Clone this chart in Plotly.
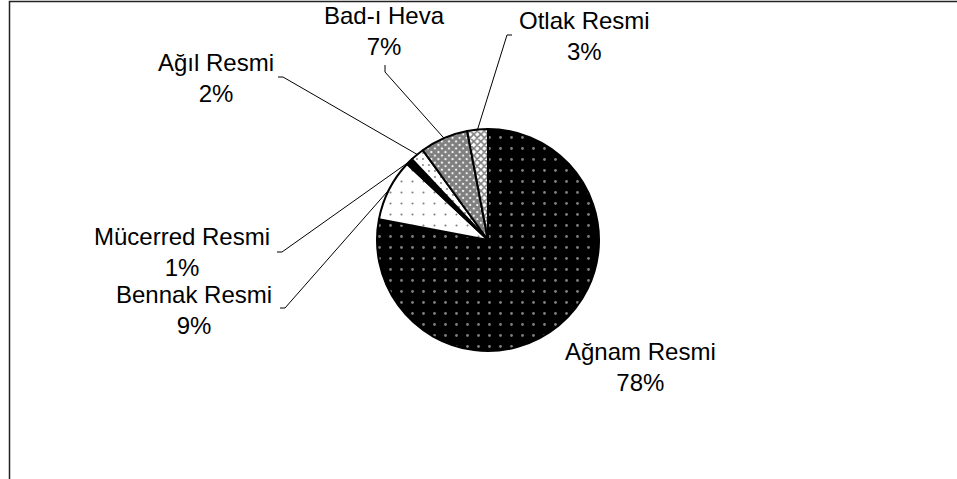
import math
import plotly.graph_objects as go

# ---- data ----
categories = ["Ağnam Resmi", "Bennak Resmi", "Mücerred Resmi", "Ağıl Resmi", "Bad-ı Heva", "Otlak Resmi"]
values = [78, 9, 1, 2, 7, 3]
percent_labels = ["78%", "9%", "1%", "2%", "7%", "3%"]

# ---- styles / layout ----
W, H = 957, 479
CX, CY, R = 488, 240, 111
pattern_shapes = [".", ".", "", ".", "x", "x"]
bg_colors = ["black", "white", "black", "white", "white", "white"]
fg_colors = ["white", "black", "black", "black", "black", "black"]
pattern_sizes = [11, 11, 8, 6, 5, 5]
solidities = [0.05, 0.03, 0.3, 0.08, 0.85, 0.55]

# label centre (px) and leader start (tick start, tick end) in px; None => no leader
label_pos = [(640, 367), (194, 310), (182, 252), (216, 78), (384, 31), (584, 36)]
leader_ticks = [None, ((280, 308), (285, 308)), ((277, 252), (282, 252)),
                ((278, 77), (283, 77)), ((385, 65), (385, 72)), ((512, 35), (507, 35))]

def px(x):
    return x / W

def py(y):
    return 1 - y / H

fig = go.Figure()
fig.add_trace(go.Pie(
    labels=categories,
    values=values,
    sort=False,
    direction="clockwise",
    rotation=0,
    textinfo="none",
    hoverinfo="label+percent",
    showlegend=False,
    domain=dict(x=[px(CX - R), px(CX + R)], y=[py(CY + R), py(CY - R)]),
    marker=dict(
        colors=bg_colors,
        line=dict(color="black", width=2),
        pattern=dict(shape=pattern_shapes, bgcolor=bg_colors, fgcolor=fg_colors,
                     size=pattern_sizes, solidity=solidities, fillmode="overlay"),
    ),
))

total = sum(values)
cum = 0
shapes = []
annotations = []
for i, v in enumerate(values):
    mid = (cum + v / 2) / total * 2 * math.pi  # clockwise from 12 o'clock
    cum += v
    sx = CX + R * math.sin(mid)
    sy = CY - R * math.cos(mid)
    lx, ly = label_pos[i]
    annotations.append(dict(
        x=px(lx), y=py(ly), xref="paper", yref="paper",
        text=f"{categories[i]}<br>{percent_labels[i]}",
        showarrow=False, xanchor="center", yanchor="middle", align="center",
        font=dict(family="Liberation Sans, Arial, sans-serif", size=24, color="black"),
    ))
    if leader_ticks[i] is not None:
        (t0x, t0y), (t1x, t1y) = leader_ticks[i]
        path = (f"M {px(t0x)},{py(t0y)} L {px(t1x)},{py(t1y)} "
                f"L {px(sx)},{py(sy)}")
        shapes.append(dict(type="path", path=path, xref="paper", yref="paper",
                           line=dict(color="black", width=1)))

# outer chart frame (top and left edges visible)
shapes.append(dict(type="rect", xref="paper", yref="paper",
                   x0=px(9.5), y0=-0.05, x1=1.05, y1=py(1.5),
                   line=dict(color="#222222", width=1.5)))

fig.update_layout(
    width=W, height=H,
    margin=dict(l=0, r=0, t=0, b=0),
    paper_bgcolor="white",
    plot_bgcolor="white",
    shapes=shapes,
    annotations=annotations,
)

fig.write_html("out.html",
               config={"displayModeBar": False},
               post_script="document.body.style.margin='0';document.body.style.overflow='hidden';")
